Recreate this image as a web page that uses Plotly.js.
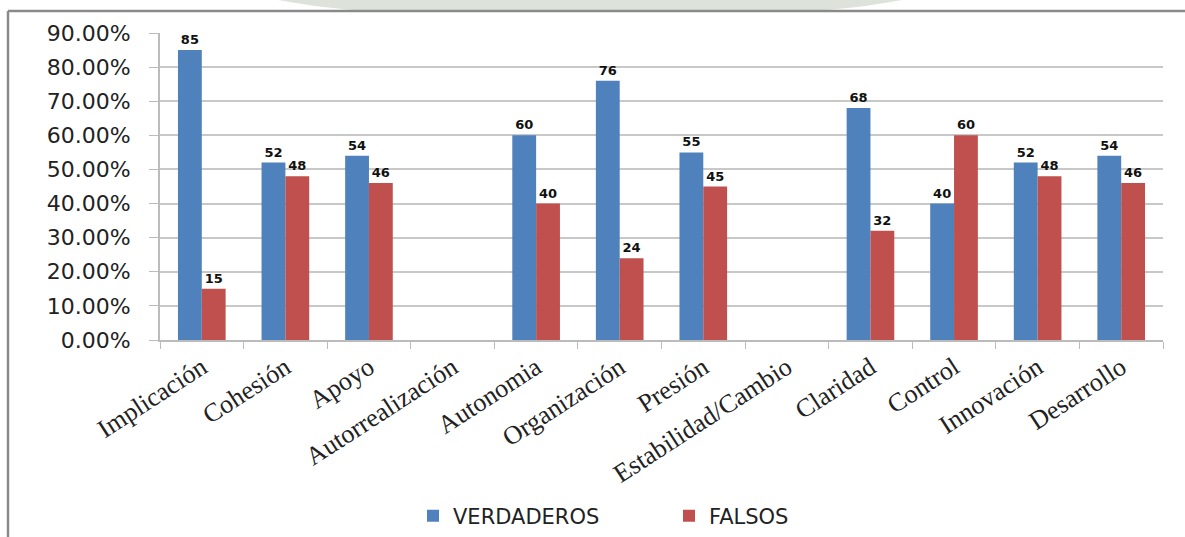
<!DOCTYPE html>
<html>
<head>
<meta charset="utf-8">
<script src="https://cdn.plot.ly/plotly-3.0.1.min.js"></script>
<style>html,body{margin:0;padding:0;background:#fff;}#chart{width:1185px;height:537px;}</style>
</head>
<body>
<div id="chart"></div>
<script>
const categories = ["Implicación","Cohesión","Apoyo","Autorrealización","Autonomia","Organización","Presión","Estabilidad/Cambio","Claridad","Control","Innovación","Desarrollo"];
const verdaderos = [85, 52, 54, null, 60, 76, 55, null, 68, 40, 52, 54];
const falsos = [15, 48, 46, null, 40, 24, 45, null, 32, 60, 48, 46];
const yTicks = [0, 10, 20, 30, 40, 50, 60, 70, 80, 90];
const yTickText = yTicks.map(v => v.toFixed(2) + "%");

const W = 1185, H = 537;
const L = 160, R = 22, T = 33, B = 197;
const pw = W - L - R, ph = H - T - B;
const px = x => (x - L) / pw;
const py = y => (H - B - y) / ph;

const labelFont = {family: "DejaVu Sans", size: 13, color: "#111", weight: 700};

const traces = [
  {type: "bar", name: "VERDADEROS", x: categories, y: verdaderos,
   marker: {color: "#4f81bd"}, text: verdaderos.map(v => v == null ? "" : String(v)),
   textposition: "outside", textfont: labelFont, cliponaxis: false, hoverinfo: "x+y"},
  {type: "bar", name: "FALSOS", x: categories, y: falsos,
   marker: {color: "#c0504d"}, text: falsos.map(v => v == null ? "" : String(v)),
   textposition: "outside", textfont: labelFont, cliponaxis: false, hoverinfo: "x+y"}
];

const layout = {
  width: W, height: H,
  margin: {l: L, r: R, t: T, b: B, autoexpand: false},
  paper_bgcolor: "#fff", plot_bgcolor: "#fff",
  barmode: "group", bargap: 0.43, bargroupgap: 0,
  showlegend: true,
  legend: {orientation: "h", x: px(413), xanchor: "left", y: py(516), yanchor: "middle",
           entrywidth: 211, entrywidthmode: "pixels",
           font: {family: "DejaVu Sans", size: 21, color: "#222"}, itemwidth: 30, traceorder: "normal"},
  xaxis: {type: "category", tickangle: -33, tickson: "boundaries", ticks: "outside", ticklen: 7,
          tickcolor: "#bbb", showline: true, linecolor: "#bbb", linewidth: 2, showgrid: false,
          tickfont: {family: "Liberation Serif", size: 26, color: "#222"}, fixedrange: true, automargin: false},
  yaxis: {range: [0, 90], tickvals: yTicks, ticktext: yTickText, tickmode: "array",
          ticks: "outside", ticklen: 9, tickcolor: "#bbb", showline: true, linecolor: "#bbb", linewidth: 2,
          showgrid: true, gridcolor: "#c8c8c8", gridwidth: 2, zeroline: false, ticklabelstandoff: 14,
          tickfont: {family: "DejaVu Sans", size: 22, color: "#222"}, fixedrange: true, automargin: false},
  shapes: [
    {type: "circle", xref: "paper", yref: "paper", x0: px(230), x1: px(950), y0: py(20), y1: py(-60),
     fillcolor: "#dde3da", line: {width: 0}, layer: "below"},
    {type: "line", xref: "paper", yref: "paper", x0: px(8), x1: px(1200), y0: py(11), y1: py(11),
     line: {color: "#8a8a8a", width: 2.5}},
    {type: "line", xref: "paper", yref: "paper", x0: px(8), x1: px(8), y0: py(11), y1: py(560),
     line: {color: "#8a8a8a", width: 2.5}},
    {type: "rect", xref: "paper", yref: "paper", x0: px(9.5), x1: px(1200), y0: py(12), y1: py(560),
     fillcolor: "#fff", line: {width: 0}, layer: "below"}
  ]
};

Plotly.newPlot("chart", traces, layout, {displayModeBar: false, staticPlot: true});
</script>
</body>
</html>
